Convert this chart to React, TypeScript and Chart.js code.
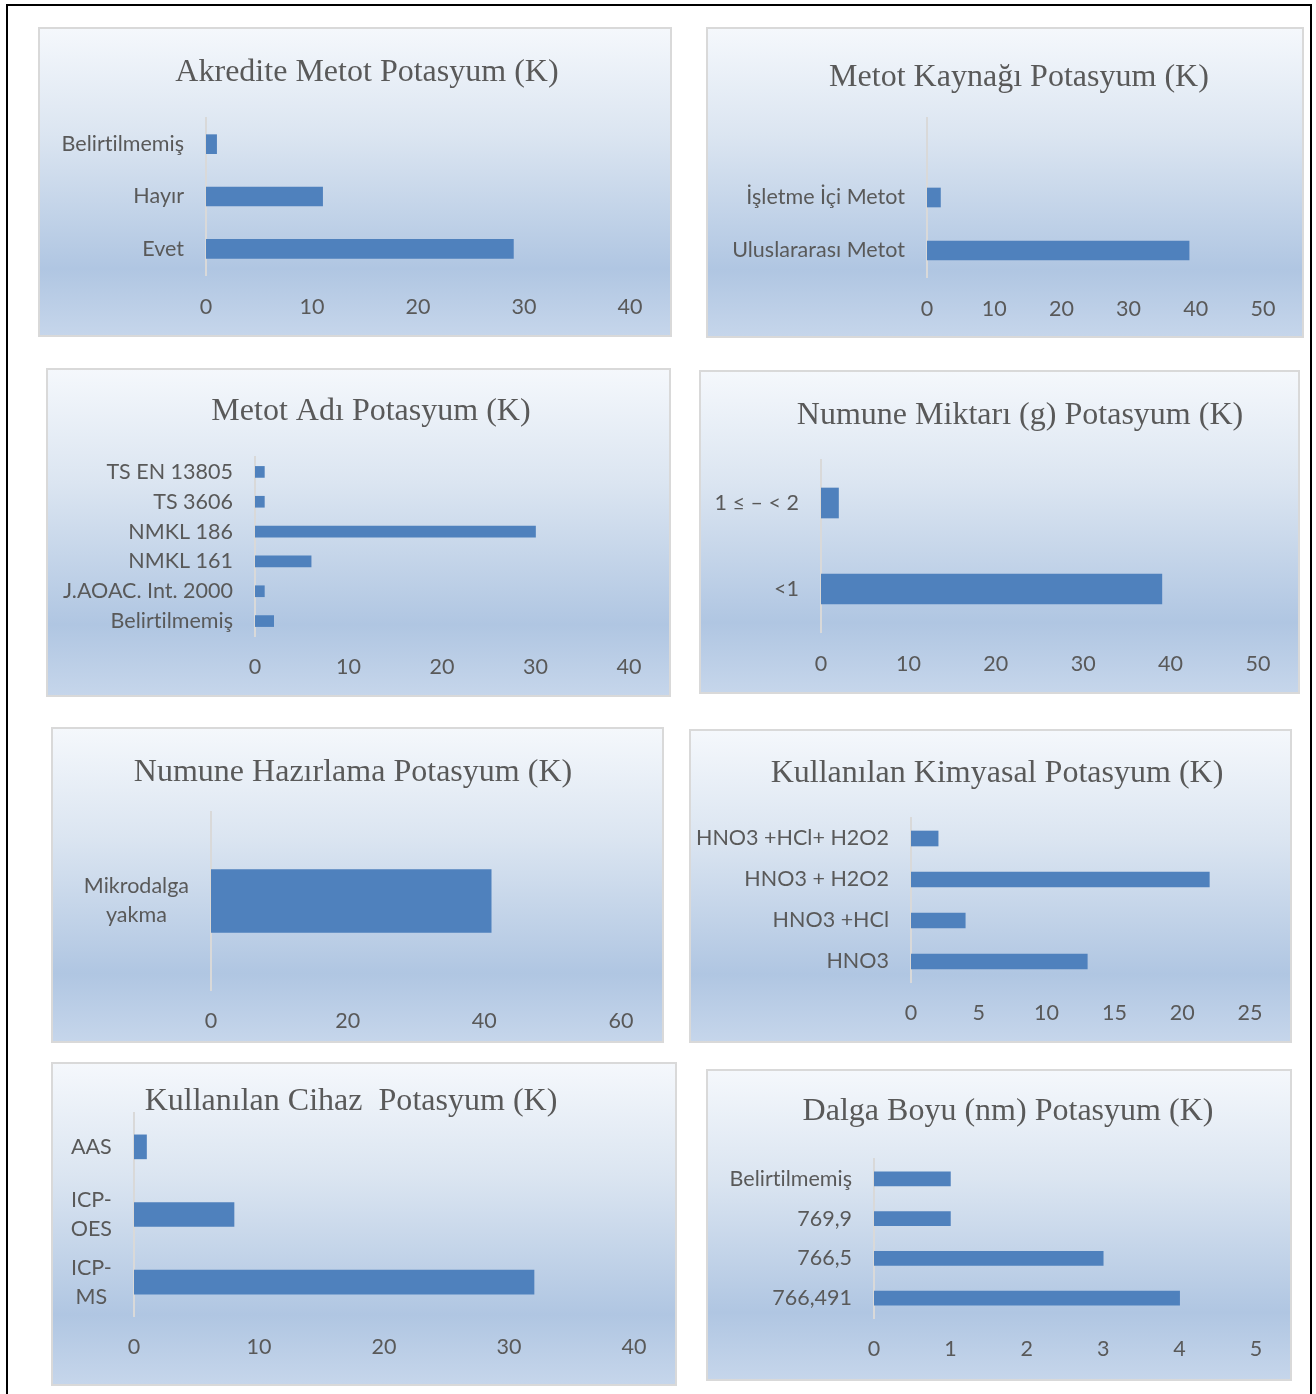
import React, { useEffect, useRef } from "react";
import { Chart, registerables } from "chart.js";

Chart.register(...registerables);

// ---- data ----
const akrediteLabels = ["Belirtilmemiş", "Hayır", "Evet"];
const akrediteValues = [1, 11, 29];

const kaynakLabels = ["", "İşletme İçi Metot", "Uluslararası Metot"];
const kaynakValues = [null, 2, 39];

const metotAdiLabels = ["TS EN 13805", "TS 3606", "NMKL 186", "NMKL 161", "J.AOAC. Int. 2000", "Belirtilmemiş"];
const metotAdiValues = [1, 1, 30, 6, 1, 2];

const miktarLabels = ["1 ≤ – < 2", "<1"];
const miktarValues = [2, 39];

const hazirlamaLabels = [["Mikrodalga", "yakma"]];
const hazirlamaValues = [41];

const kimyasalLabels = ["HNO3 +HCl+ H2O2", "HNO3 + H2O2", "HNO3 +HCl", "HNO3"];
const kimyasalValues = [2, 22, 4, 13];

const cihazLabels = ["AAS", ["ICP-", "OES"], ["ICP-", "MS"]];
const cihazValues = [1, 8, 32];

const dalgaLabels = ["Belirtilmemiş", "769,9", "766,5", "766,491"];
const dalgaValues = [1, 1, 3, 4];

// axis ranges: [max, step]
const akrediteAxis = [40, 10];
const kaynakAxis = [50, 10];
const metotAdiAxis = [40, 10];
const miktarAxis = [50, 10];
const hazirlamaAxis = [60, 20];
const kimyasalAxis = [25, 5];
const cihazAxis = [40, 10];
const dalgaAxis = [5, 1];

// ---- styling ----
const BAR = "#4f81bd";
const TEXT = "#595959";
const AXIS_LINE = "#d9d9d9";
const TITLE_FONT = "'Liberation Serif', 'Times New Roman', serif";
const TITLE_SIZE = 32;
const TITLE_BASELINE_SHIFT = 2;
const TICK_FONT = "Lato, 'Open Sans', sans-serif";
const TICK_SIZE = 21.5;

type PanelSpec = {
  title: string;
  labels: any[];
  values: (number | null)[];
  axis: number[];
  // panel box
  l: number; t: number; r: number; b: number;
  // plot geometry
  x0: number; xEnd: number; top: number; bottom: number;
  titleX: number; titleY: number; tickY: number;
  bar: number;
  center?: boolean;
};

const panels: PanelSpec[] = [
  {
    title: "Akredite Metot Potasyum (K)", labels: akrediteLabels, values: akrediteValues, axis: akrediteAxis,
    l: 38, t: 27, r: 672, b: 337, x0: 206, xEnd: 630, top: 118, bottom: 275,
    titleX: 367, titleY: 71, tickY: 307, bar: 19,
  },
  {
    title: "Metot Kaynağı Potasyum (K)", labels: kaynakLabels, values: kaynakValues, axis: kaynakAxis,
    l: 706, t: 27, r: 1304, b: 338, x0: 927, xEnd: 1263, top: 118, bottom: 277,
    titleX: 1019, titleY: 76, tickY: 309, bar: 19,
  },
  {
    title: "Metot Adı Potasyum (K)", labels: metotAdiLabels, values: metotAdiValues, axis: metotAdiAxis,
    l: 46, t: 368, r: 671, b: 697, x0: 255, xEnd: 629, top: 457, bottom: 636,
    titleX: 371, titleY: 410, tickY: 667, bar: 11,
  },
  {
    title: "Numune Miktarı (g) Potasyum (K)", labels: miktarLabels, values: miktarValues, axis: miktarAxis,
    l: 699, t: 370, r: 1300, b: 694, x0: 821, xEnd: 1258, top: 460, bottom: 632,
    titleX: 1020, titleY: 414, tickY: 664, bar: 30,
  },
  {
    title: "Numune Hazırlama Potasyum (K)", labels: hazirlamaLabels, values: hazirlamaValues, axis: hazirlamaAxis,
    l: 51, t: 727, r: 664, b: 1043, x0: 211, xEnd: 621, top: 812, bottom: 990,
    titleX: 353, titleY: 771, tickY: 1021, bar: 63, center: true,
  },
  {
    title: "Kullanılan Kimyasal Potasyum (K)", labels: kimyasalLabels, values: kimyasalValues, axis: kimyasalAxis,
    l: 689, t: 729, r: 1292, b: 1043, x0: 911, xEnd: 1250, top: 818, bottom: 982,
    titleX: 997, titleY: 772, tickY: 1013, bar: 15,
  },
  {
    title: "Kullanılan Cihaz  Potasyum (K)", labels: cihazLabels, values: cihazValues, axis: cihazAxis,
    l: 51, t: 1062, r: 677, b: 1386, x0: 134, xEnd: 634, top: 1112, bottom: 1316,
    titleX: 351, titleY: 1099, tickY: 1347, bar: 24, center: true,
  },
  {
    title: "Dalga Boyu (nm) Potasyum (K)", labels: dalgaLabels, values: dalgaValues, axis: dalgaAxis,
    l: 706, t: 1069, r: 1292, b: 1381, x0: 874, xEnd: 1256, top: 1159, bottom: 1318,
    titleX: 1008, titleY: 1110, tickY: 1349, bar: 14,
  },
];

function BarPanel({ p }: { p: PanelSpec }) {
  const ref = useRef<HTMLCanvasElement | null>(null);
  const w = p.r - p.l;
  const h = p.b - p.t;

  useEffect(() => {
    if (!ref.current) return;
    const titleLine = TITLE_SIZE * 1.2;
    const padR = p.r - p.xEnd;
    const padT = p.titleY + TITLE_BASELINE_SHIFT - p.t - titleLine / 2;
    const titleBottom = p.top - (p.t + padT + titleLine);
    const yWidth = p.x0 - p.l;
    const xHeight = p.b - p.bottom;
    const tickLine = TICK_SIZE * 1.2;
    const xTickPad = p.tickY - p.bottom - tickLine / 2;
    // title is centred on the full box by default; move it to its own centre line
    const titleShift = p.titleX - (p.l + (w - padR) / 2);

    const panelTweaks = {
      id: "panelTweaks",
      afterLayout(chart: any) {
        const tb = chart.titleBlock;
        if (tb) {
          tb.left += titleShift;
          tb.right += titleShift;
        }
      },
      beforeDraw(chart: any) {
        // a hair of letter spacing keeps "ti" from turning into a ligature
        chart.ctx.letterSpacing = "0.01px";
      },
    };

    const chart = new Chart(ref.current, {
      type: "bar",
      data: {
        labels: p.labels,
        datasets: [
          {
            data: p.values as any,
            backgroundColor: BAR,
            borderWidth: 0,
            barThickness: p.bar,
          },
        ],
      },
      plugins: [panelTweaks],
      options: {
        indexAxis: "y",
        animation: false,
        responsive: false,
        maintainAspectRatio: false,
        layout: { padding: { left: 0, right: padR, top: padT, bottom: 0 } },
        plugins: {
          legend: { display: false },
          tooltip: { enabled: false },
          title: {
            display: true,
            text: p.title,
            color: TEXT,
            font: { family: TITLE_FONT, size: TITLE_SIZE, weight: "normal" as any, lineHeight: 1.2 },
            padding: { top: 0, bottom: titleBottom },
          },
        },
        scales: {
          x: {
            min: 0,
            max: p.axis[0],
            ticks: {
              stepSize: p.axis[1],
              color: TEXT,
              font: { family: TICK_FONT, size: TICK_SIZE, lineHeight: 1.2 },
              padding: xTickPad,
              maxRotation: 0,
            },
            grid: { display: false, drawTicks: false },
            border: { display: false },
            afterFit: (s: any) => {
              s.height = xHeight;
            },
          },
          y: {
            ticks: {
              color: TEXT,
              font: { family: TICK_FONT, size: TICK_SIZE, lineHeight: 1.35 },
              padding: 22,
              crossAlign: p.center ? "center" : "near",
              autoSkip: false,
            },
            grid: { display: false, drawTicks: false },
            border: { display: true, color: AXIS_LINE, width: 2 },
            afterFit: (s: any) => {
              s.width = yWidth;
            },
          },
        },
      } as any,
    });
    return () => chart.destroy();
  }, [p]);

  return (
    <div
      style={{
        position: "absolute",
        left: p.l,
        top: p.t,
        width: w,
        height: h,
        background:
          "linear-gradient(to bottom, #f5f8fc 0%, #dbe5f1 35%, #b0c6e2 78%, #c6d6eb 100%)",
        boxShadow: "inset 0 0 0 2px #d9d9d9",
      }}
    >
      <canvas ref={ref} width={w} height={h} style={{ position: "absolute", left: 0, top: 0, width: w, height: h }} />
    </div>
  );
}

export default function App() {
  return (
    <div
      style={{
        position: "absolute",
        left: 0,
        top: 0,
        width: 1316,
        height: 1394,
        background: "#ffffff",
        overflow: "hidden",
      }}
    >
      <div
        style={{
          position: "absolute",
          left: 6,
          top: 4,
          width: 1306,
          height: 1500,
          boxSizing: "border-box",
          borderLeft: "2px solid #000",
          borderTop: "2px solid #000",
          borderRight: "2px solid #000",
        }}
      />
      {panels.map((p, i) => (
        <BarPanel key={i} p={p} />
      ))}
    </div>
  );
}
